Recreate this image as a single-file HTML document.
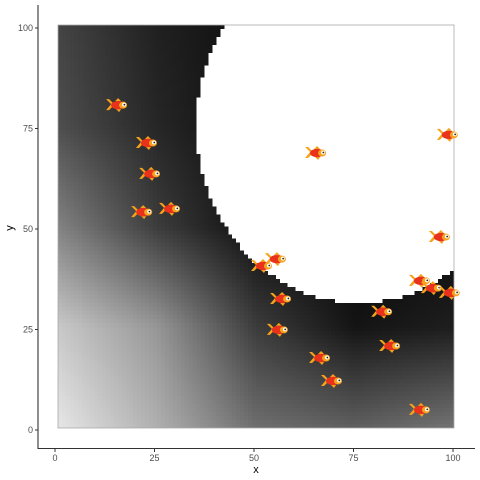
<!DOCTYPE html>
<html><head><meta charset="utf-8"><style>
body{margin:0;background:#fff;width:480px;height:480px;overflow:hidden;font-family:"Liberation Sans",sans-serif}
#bg{position:absolute;left:58px;top:25px;width:396px;height:403px;image-rendering:pixelated}
svg{position:absolute;left:0;top:0}
</style></head><body>
<canvas id="bg" width="100" height="100"></canvas>
<svg id="chart" width="480" height="480">
<rect x="58" y="25" width="396" height="403" fill="none" stroke="#aaa" stroke-width="0.8"/>
<g id="fish"></g>
<line x1="38" y1="5" x2="38" y2="449" stroke="#333" stroke-width="1.1"/>
<line x1="38" y1="448.5" x2="475" y2="448.5" stroke="#333" stroke-width="1.1"/>
<g id="axes" font-size="9" fill="#4d4d4d"></g>
<text x="256" y="473" font-size="11" text-anchor="middle" fill="#000">x</text>
<text x="13" y="228" font-size="11" text-anchor="middle" fill="#000" transform="rotate(-90 13 228)">y</text>
</svg>
<script>
const fishX=[15.6,23.1,23.9,21.9,28.9,52.0,55.5,56.8,56.0,65.6,66.6,69.6,82.2,84.2,91.7,98.7,96.7,91.7,94.7,99.2];
const fishY=[80.8,71.4,63.7,54.2,55.0,40.8,42.5,32.6,24.9,68.9,17.9,12.2,29.4,20.9,5.0,73.4,48.0,37.1,35.3,34.1];
const xTicks=[0,25,50,75,100];
const yTicks=[0,25,50,75,100];
const circleCenter=[76,75];
const circleRadii=[41,44];
// background gray samples, rows y=0,25,50,75,100; cols x=0,25,50,75,100
const shadeRow0=[230,175,110,95,115];
const shadeRow25=[200,150,60,20,30];
const shadeRow50=[130,60,14,6,12];
const shadeRow75=[78,38,12,6,6];
const shadeRow100=[68,32,14,6,6];
const shade=[shadeRow0,shadeRow25,shadeRow50,shadeRow75,shadeRow100];
const sx=v=>55+v*3.98;
const sy=v=>430-v*4.02;
function shadeAt(x,y){
  const fx=Math.min(3.999,x/25),fy=Math.min(3.999,y/25);
  const i=Math.floor(fx),j=Math.floor(fy),tx=fx-i,ty=fy-j;
  const a=shade[j][i]*(1-tx)+shade[j][i+1]*tx;
  const b=shade[j+1][i]*(1-tx)+shade[j+1][i+1]*tx;
  return a*(1-ty)+b*ty;
}
const c=document.getElementById('bg').getContext('2d');
const img=c.createImageData(100,100);
for(let j=0;j<100;j++)for(let i=0;i<100;i++){
  const x=i+0.5,y=99.5-j;
  const ex=(x-circleCenter[0])/circleRadii[0],ey=(y-circleCenter[1])/circleRadii[1];
  const g=(ex*ex+ey*ey)<1?255:Math.max(6,shadeAt(x,y));
  const k=(j*100+i)*4;img.data[k]=img.data[k+1]=img.data[k+2]=g;img.data[k+3]=255;
}
c.putImageData(img,0,0);
const NS='http://www.w3.org/2000/svg';
const ax=document.getElementById('axes');
xTicks.forEach(v=>{
  const l=document.createElementNS(NS,'line');
  l.setAttribute('x1',sx(v));l.setAttribute('x2',sx(v));l.setAttribute('y1',449);l.setAttribute('y2',452);l.setAttribute('stroke','#333');
  
  
  ax.appendChild(l);
  const t=document.createElementNS(NS,'text');
  t.setAttribute('x',sx(v));t.setAttribute('y',461);t.setAttribute('text-anchor','middle');t.textContent=v;
  
  
  ax.appendChild(t);
});
yTicks.forEach(v=>{
  const l=document.createElementNS(NS,'line');
  l.setAttribute('x1',35);l.setAttribute('x2',38);l.setAttribute('y1',sy(v));l.setAttribute('y2',sy(v));l.setAttribute('stroke','#333');
  
  
  ax.appendChild(l);
  const t=document.createElementNS(NS,'text');
  t.setAttribute('x',33);t.setAttribute('y',sy(v)+3);t.setAttribute('text-anchor','end');t.textContent=v;
  
  
  ax.appendChild(t);
});
const fg=document.getElementById('fish');
fishX.forEach((v,i)=>{
  const g=document.createElementNS(NS,'g');
  g.setAttribute('transform','translate('+sx(v)+','+sy(fishY[i])+')');
  
  
  g.innerHTML='<path d="M-11,-6 L-6,-1 L-11,5 L-8,5 L-4,1 L-4,-2 L-8,-6Z" fill="#f7a21b"/>'+
   '<path d="M-2,-4 L1,-7 L4,-4Z" fill="#f7a21b"/><path d="M-1,4 L2,7 L4,4Z" fill="#f7a21b"/>'+
   '<ellipse cx="1" cy="0" rx="7" ry="4.2" fill="#e8321c"/>'+
   '<ellipse cx="6" cy="0" rx="4" ry="3.5" fill="#f7a21b"/>'+
   '<circle cx="7" cy="-0.5" r="2" fill="#fff"/><circle cx="7.3" cy="-0.5" r="0.9" fill="#222"/>';
  fg.appendChild(g);
});
</script>
</body></html>
